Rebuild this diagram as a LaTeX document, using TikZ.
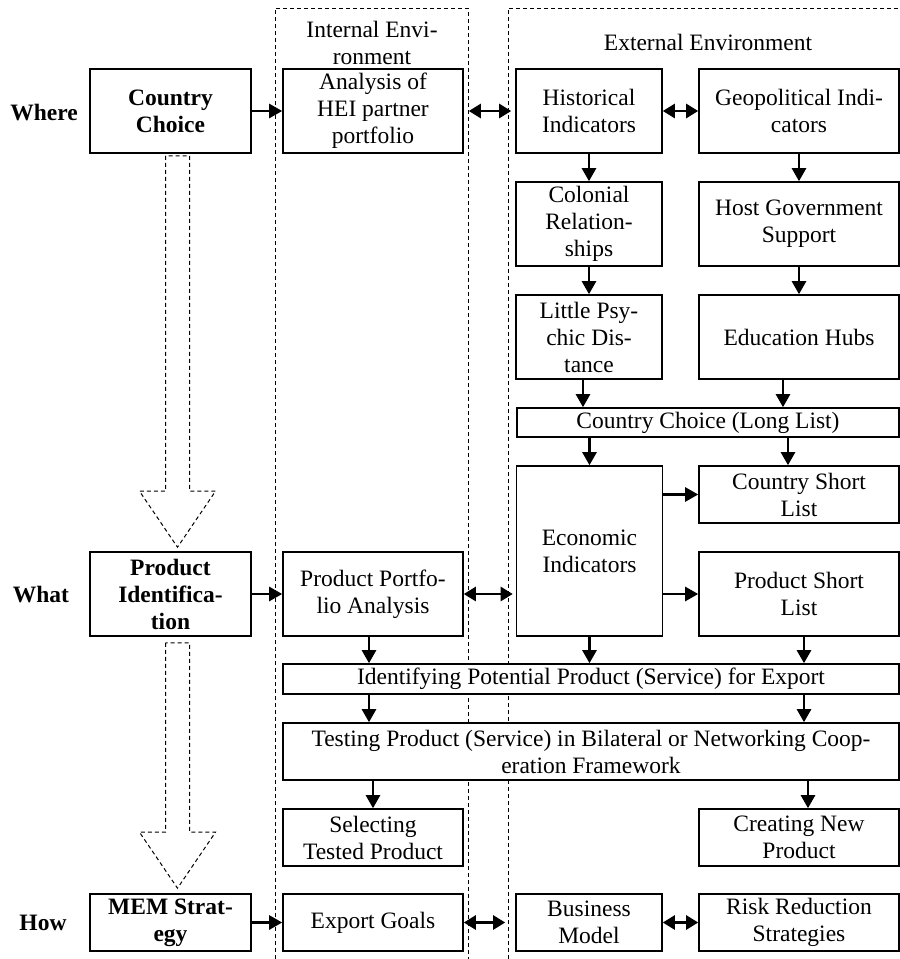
\documentclass[tikz,border=0pt]{standalone}
\usepackage{fontspec}
\setmainfont{Liberation Serif}
\usetikzlibrary{arrows.meta,calc}
\newcommand{\bodysize}{\fontsize{23.5}{27}\selectfont}

\begin{document}
\begin{tikzpicture}[x=1pt,y=-1pt,font=\bodysize,align=center,
  bx/.style 2 args={rectangle,draw,fill=white,line width=1.6pt,inner sep=0pt,minimum width=#1,minimum height=#2},
  bold/.style={font=\bodysize\bfseries},
  arr/.style={line width=2.6pt,-{Triangle[length=13pt,width=14pt]}},
  darr/.style={line width=2.6pt,{Triangle[length=12pt,width=14pt]}-{Triangle[length=12pt,width=14pt]}},
  env/.style={dash pattern=on 4pt off 3pt,line width=1pt},
  bigarr/.style={dash pattern=on 4pt off 3pt,line width=1pt}]
\useasboundingbox (0,0) rectangle (900,959);
\draw[env] (275,959) -- (275,8) -- (468,8) -- (468,959);
\draw[env] (508,959) -- (508,8) -- (900,8);
\draw (372,43) node (intenv) {Internal Envi-\\ronment};
\draw (708,42) node (extenv) {External Environment};
\draw (44,113) node[bold] (where) {Where};
\draw (41,595) node[bold] (what) {What};
\draw (43,923) node[bold] (how) {How};
\draw (170.5,111) node[bx={161}{84},bold] (cc) {Country\\Choice};
\draw (373,111) node[bx={180}{84}] (ahei) {Analysis of\\HEI partner\\portfolio};
\draw (589,111) node[bx={146}{84}] (hist) {Historical\\Indicators};
\draw (799,111) node[bx={200}{84}] (geo) {Geopolitical Indi-\\cators};
\draw (589,224) node[bx={146}{84}] (col) {Colonial\\Relation-\\ships};
\draw (799,224) node[bx={200}{84}] (host) {Host Government\\Support};
\draw (589,337) node[bx={146}{84}] (lpd) {Little Psy-\\chic Dis-\\tance};
\draw (799,337) node[bx={200}{84}] (edu) {Education Hubs};
\draw (708,422.5) node[bx={382}{29}] (long) {Country Choice (Long List)};
\draw (589.5,551) node[bx={146}{170}] (eco) {Economic\\Indicators};
\draw (799,494.5) node[bx={200}{57}] (csl) {Country Short\\List};
\draw (799,594) node[bx={200}{84}] (psl) {Product Short\\List};
\draw (373,594) node[bx={180}{84}] (ppa) {Product Portfo-\\lio Analysis};
\draw (170.5,594) node[bx={161}{84},bold] (pid) {Product\\Identifica-\\tion};
\draw (591,679) node[bx={616}{30}] (ident) {Identifying Potential Product (Service) for Export};
\draw (591,751.5) node[bx={616}{57}] (test) {Testing Product (Service) in Bilateral or Networking Coop-\\eration Framework};
\draw (373,837.5) node[bx={180}{57}] (sel) {Selecting\\Tested Product};
\draw (799,837.5) node[bx={200}{57}] (cnp) {Creating New\\Product};
\draw (170.5,922.5) node[bx={161}{57},bold] (mem) {MEM Strat-\\egy};
\draw (373,922.5) node[bx={180}{57}] (goal) {Export Goals};
\draw (589,922.5) node[bx={146}{57}] (bm) {Business\\Model};
\draw (799,922.5) node[bx={200}{57}] (risk) {Risk Reduction\\Strategies};
\coordinate (a1) at ($(cc.south)+(7,2)$);
\coordinate (b1) at ($(pid.north)+(7,-4)$);
\coordinate (a2) at ($(pid.south)+(7,6)$);
\coordinate (b2) at ($(mem.north)+(7,-5)$);
\draw[bigarr] ([xshift=-12pt]a1) -- ([xshift=-12pt,yshift=56pt]b1) -- ([xshift=-38pt,yshift=56pt]b1) -- (b1) -- ([xshift=38pt,yshift=56pt]b1) -- ([xshift=12pt,yshift=56pt]b1) -- ([xshift=12pt]a1) -- cycle;
\draw[bigarr] ([xshift=-12pt]a2) -- ([xshift=-12pt,yshift=56pt]b2) -- ([xshift=-38pt,yshift=56pt]b2) -- (b2) -- ([xshift=38pt,yshift=56pt]b2) -- ([xshift=12pt,yshift=56pt]b2) -- ([xshift=12pt]a2) -- cycle;
\draw[arr] (cc.east) -- (ahei.west);
\draw[darr,shorten <=5pt,shorten >=4pt] (ahei.east) -- (hist.west);
\draw[darr] (hist.east) -- (geo.west);
\draw[arr] (hist.south) -- (col.north);
\draw[arr] (geo.south) -- (host.north);
\draw[arr] (col.south) -- (lpd.north);
\draw[arr] (host.south) -- (edu.north);
\draw[arr] ([xshift=-6pt]lpd.south) -- ([xshift=-6pt]lpd.south |- long.north);
\draw[arr] ([xshift=-16pt]edu.south) -- ([xshift=-16pt]edu.south |- long.north);
\draw[arr] (eco.north |- long.south) -- (eco.north);
\draw[arr] ([xshift=-11pt]csl.north |- long.south) -- ([xshift=-11pt]csl.north);
\draw[arr] (eco.east |- csl.west) -- (csl.west);
\draw[arr] (eco.east |- psl.west) -- (psl.west);
\draw[arr] (pid.east) -- (ppa.west);
\draw[darr,shorten >=3pt] (ppa.east) -- (eco.west |- ppa.east);
\draw[arr] ([xshift=-4pt]ppa.south) -- ([xshift=-4pt]ppa.south |- ident.north);
\draw[arr] (eco.south) -- (eco.south |- ident.north);
\draw[arr] ([xshift=5pt]psl.south) -- ([xshift=5pt]psl.south |- ident.north);
\draw[arr] ([xshift=-4pt]ppa.south |- ident.south) -- ([xshift=-4pt]ppa.south |- test.north);
\draw[arr] ([xshift=5pt]psl.south |- ident.south) -- ([xshift=5pt]psl.south |- test.north);
\draw[arr] (sel.north |- test.south) -- (sel.north);
\draw[arr] ([xshift=9pt]cnp.north |- test.south) -- ([xshift=9pt]cnp.north);
\draw[arr] (mem.east) -- (goal.west);
\draw[darr,shorten >=10pt] (goal.east) -- (bm.west);
\draw[darr] (bm.east) -- (risk.west);
\end{tikzpicture}
\end{document}
